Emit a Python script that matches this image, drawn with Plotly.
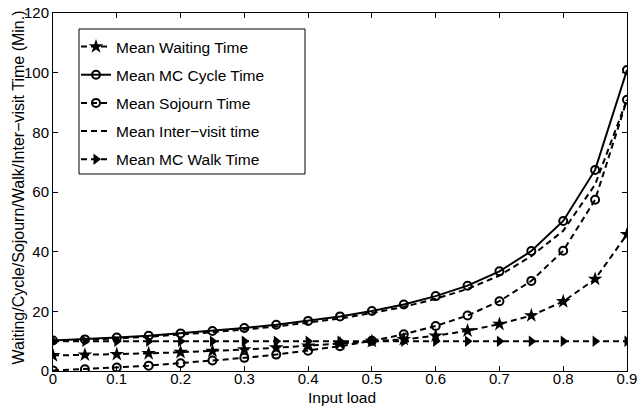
import plotly.graph_objects as go

load = [0, 0.05, 0.1, 0.15, 0.2, 0.25, 0.3, 0.35, 0.4, 0.45, 0.5, 0.55, 0.6, 0.65, 0.7, 0.75, 0.8, 0.85, 0.9]
waiting = [5.2, 5.4, 5.6, 5.9, 6.3, 6.7, 7.2, 7.8, 8.4, 9.2, 10.0, 10.6, 11.8, 13.5, 15.7, 18.6, 23.3, 30.8, 45.8]
cycle = [10.2, 10.6, 11.2, 11.8, 12.6, 13.4, 14.4, 15.5, 16.8, 18.3, 20.1, 22.3, 25.1, 28.6, 33.4, 40.2, 50.3, 67.4, 100.9]
sojourn = [0.2, 0.6, 1.2, 1.8, 2.6, 3.5, 4.4, 5.5, 6.8, 8.3, 10.1, 12.3, 15.1, 18.6, 23.4, 30.2, 40.3, 57.4, 90.9]
intervisit = [10.0, 10.4, 10.9, 11.5, 12.2, 13.0, 13.9, 14.9, 16.2, 17.6, 19.4, 21.5, 24.2, 27.5, 32.0, 38.5, 47.0, 62.5, 91.0]
walk = [10.0] * 19

x_ticks = [0, 0.1, 0.2, 0.3, 0.4, 0.5, 0.6, 0.7, 0.8, 0.9]
x_labels = ["0", "0.1", "0.2", "0.3", "0.4", "0.5", "0.6", "0.7", "0.8", "0.9"]
y_ticks = [0, 20, 40, 60, 80, 100, 120]

x_title = "Input load"
y_title = "Waiting/Cycle/Sojourn/Walk/Inter\u2212visit Time (Min.)"

DASH = "6px,4px"
FONT = "Liberation Sans, Arial, sans-serif"

# plot area in pixels
L, R, T, B = 53, 627, 13, 371
PW, PH = R - L, B - T


def px(xp):
    return (xp - L) / PW


def py(yp):
    return 1 - (yp - T) / PH


fig = go.Figure()
fig.add_trace(go.Scatter(x=load, y=waiting, name="Mean Waiting Time", mode="lines+markers",
                         legendgroup="a",
                         line=dict(color="black", width=2, dash=DASH),
                         marker=dict(symbol="star", size=11, color="black")))
fig.add_trace(go.Scatter(x=load, y=cycle, name="Mean MC Cycle Time", mode="lines+markers",
                         legendgroup="b",
                         line=dict(color="black", width=2),
                         marker=dict(symbol="circle-open", size=8, color="black", line=dict(width=2))))
fig.add_trace(go.Scatter(x=load, y=sojourn, name="Mean Sojourn Time", mode="lines+markers",
                         legendgroup="c",
                         line=dict(color="black", width=2, dash=DASH),
                         marker=dict(symbol="circle-open", size=8, color="black", line=dict(width=2))))
fig.add_trace(go.Scatter(x=load, y=intervisit, name="Mean Inter\u2212visit time", mode="lines",
                         legendgroup="d",
                         line=dict(color="black", width=2, dash=DASH)))
fig.add_trace(go.Scatter(x=load, y=walk, name="Mean MC Walk Time", mode="lines+markers",
                         legendgroup="e",
                         line=dict(color="black", width=2, dash=DASH),
                         marker=dict(symbol="triangle-right", size=10, color="black")))

axis_common = dict(showline=True, linecolor="black", linewidth=1, mirror="ticks",
                   ticks="inside", ticklen=5, tickcolor="black", showgrid=False, zeroline=False,
                   automargin=False, ticklabeloverflow="allow",
                   tickfont=dict(family=FONT, size=15, color="black"))

fig.update_layout(
    width=637, height=406,
    margin=dict(l=L, r=637 - R, t=T, b=406 - B),
    paper_bgcolor="white", plot_bgcolor="white",
    font=dict(family=FONT, size=15, color="black"),
    xaxis=dict(range=[0, 0.9], tickvals=x_ticks, ticktext=x_labels, ticklabelstandoff=-6,
               **axis_common),
    yaxis=dict(range=[0, 120], tickvals=y_ticks, **axis_common),
    legend=dict(x=px(76), y=py(30), xanchor="left", yanchor="top",
                borderwidth=0, bgcolor="rgba(0,0,0,0)",
                font=dict(family=FONT, size=15.5, color="black"),
                tracegroupgap=5, itemwidth=30),
    showlegend=True,
    shapes=[
        dict(type="rect", xref="paper", yref="paper",
             x0=px(79), x1=px(305), y0=py(174), y1=py(29),
             line=dict(color="black", width=1), fillcolor="rgba(0,0,0,0)", layer="below"),
    ],
    annotations=[
        dict(text=x_title, xref="paper", yref="paper", x=px(342), y=py(397),
             xanchor="center", yanchor="middle", showarrow=False,
             font=dict(family=FONT, size=15.5, color="black")),
        dict(text=y_title, xref="paper", yref="paper", x=px(17.5), y=py(188),
             xanchor="center", yanchor="middle", showarrow=False, textangle=-90,
             font=dict(family=FONT, size=16, color="black")),
    ],
)

fig.write_html("out.html", config={"displayModeBar": False},
               post_script="document.body.style.margin='0';document.body.style.padding='0';")
